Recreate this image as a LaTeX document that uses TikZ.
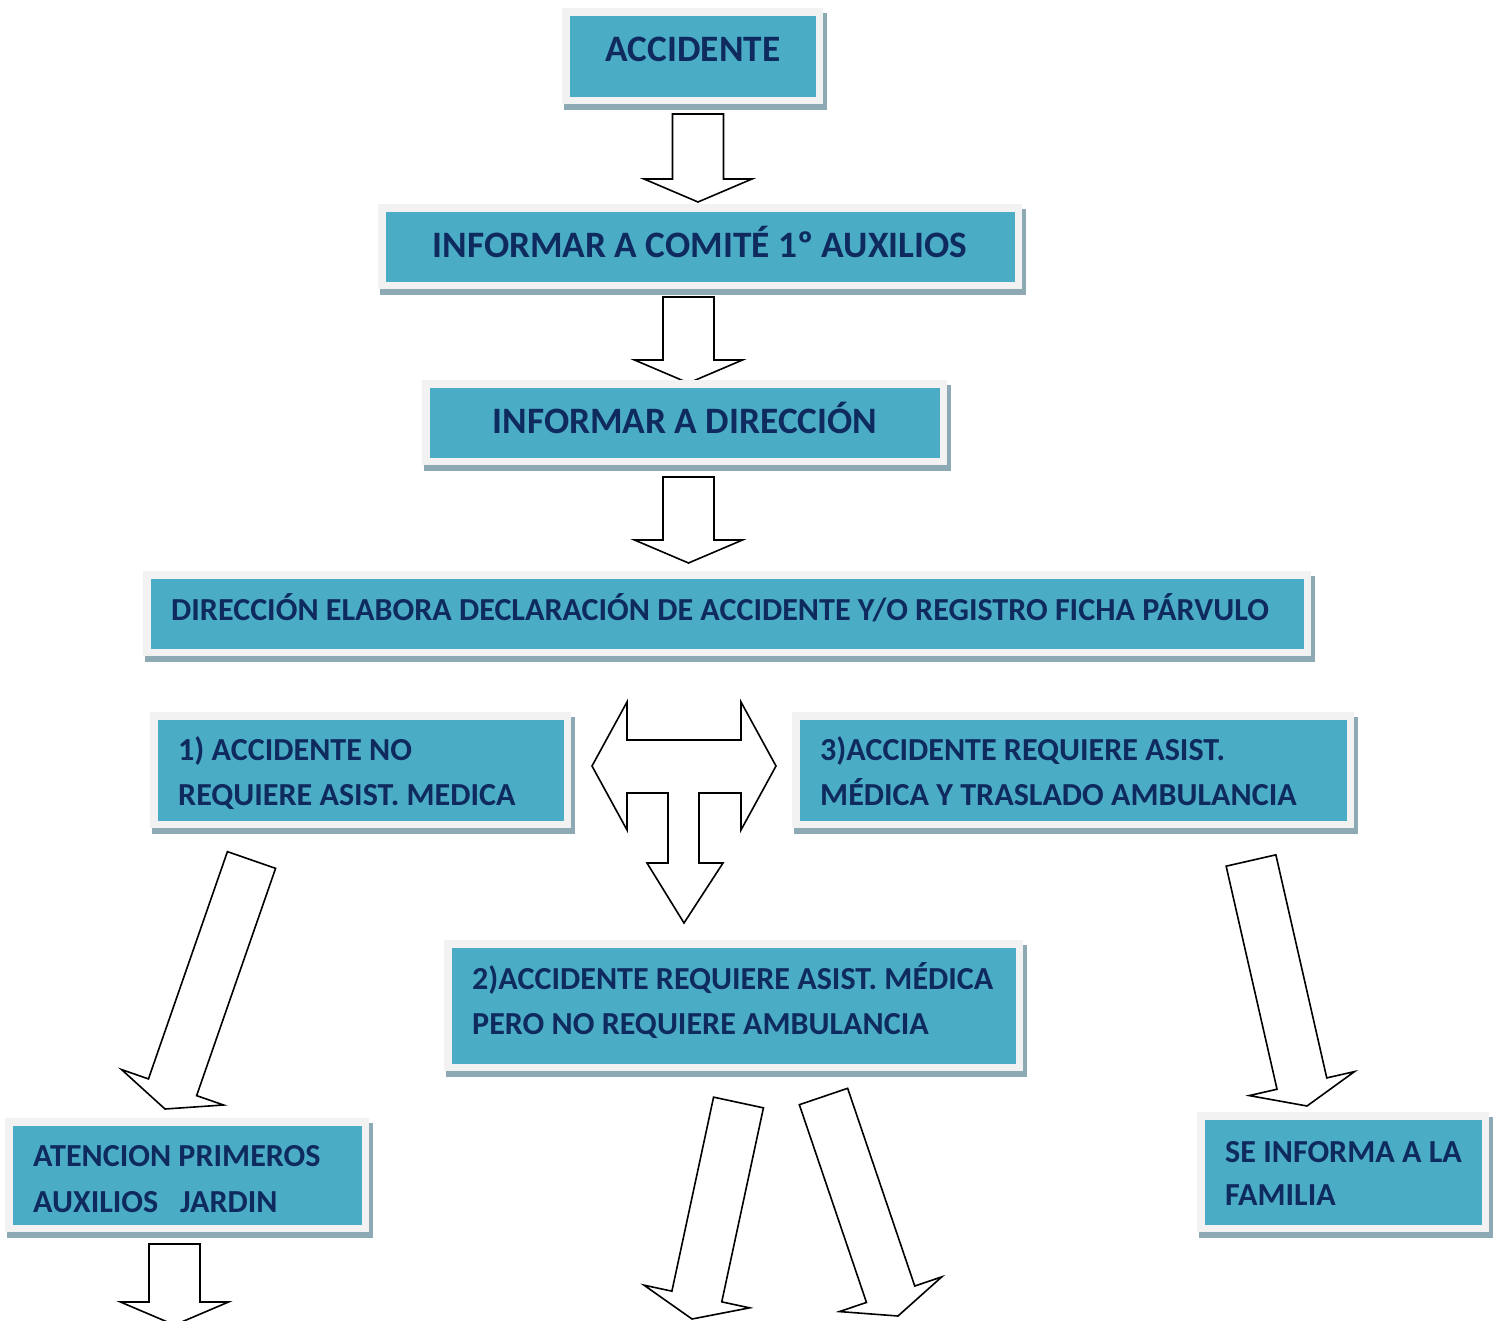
\documentclass[tikz,border=0pt]{standalone}
\usepackage{fontspec}
\setmainfont{Carlito}
\usetikzlibrary{calc,fit}
\definecolor{boxblue}{HTML}{4BACC6}
\definecolor{framegray}{HTML}{F2F2F2}
\definecolor{shadowc}{HTML}{8DA9B3}
\definecolor{navy}{HTML}{0F2A5E}
\tikzset{
  bluebox/.style={fill=boxblue, inner sep=0pt, outer sep=0pt},
  blockarr/.style={draw=black, fill=white, line width=1.6pt, line join=miter},
  bigtxt/.style={font=\fontsize{37.3}{44}\selectfont\bfseries, text=navy, inner sep=0pt, anchor=base},
  smalltxt/.style={font=\fontsize{32.1}{38}\selectfont\bfseries, text=navy, inner sep=0pt, anchor=base west},
}
\newcommand\flowbox[5]{%
  \fill[shadowc] ([shift={(-6,-3)}]#2,#3) rectangle ([shift={(11,13)}]#4,#5);
  \fill[framegray] ([shift={(-8,-8)}]#2,#3) rectangle ([shift={(7,7)}]#4,#5);
  \node[bluebox, fit={(#2,#3) (#4,#5)}] (#1) {};
}
\newcommand\blockarrow[2]{%
  \coordinate (hb) at ($(#2)!23pt!(#1)$);
  \draw[blockarr] ($(#1)!25.5pt!90:(#2)$) -- ($(hb)!25.5pt!90:(#2)$) -- ($(hb)!54pt!90:(#2)$)
    -- (#2) -- ($(hb)!54pt!-90:(#2)$) -- ($(hb)!25.5pt!-90:(#2)$) -- ($(#1)!25.5pt!-90:(#2)$) -- cycle;
}
\begin{document}
\begin{tikzpicture}[x=1pt,y=-1pt]
\useasboundingbox (0,0) rectangle (1497,1321);
% arrow end points
\coordinate (a1s) at (698,114);    \coordinate (a1e) at (698,202);
\coordinate (a2s) at (688.5,297);  \coordinate (a2e) at (688.5,383);
\coordinate (a3s) at (688.5,477);  \coordinate (a3e) at (688.5,563);
\coordinate (a4s) at (251.5,860);  \coordinate (a4e) at (165,1109);
\coordinate (a5s) at (1251,860.5); \coordinate (a5e) at (1307,1106);
\coordinate (a6s) at (738.5,1102.5); \coordinate (a6e) at (692,1319);
\coordinate (a7s) at (823.5,1096.5); \coordinate (a7e) at (898,1316);
\coordinate (a8s) at (174.5,1244); \coordinate (a8e) at (174.5,1325);
\blockarrow{a1s}{a1e}
\blockarrow{a2s}{a2e}
\blockarrow{a3s}{a3e}
\blockarrow{a4s}{a4e}
\blockarrow{a5s}{a5e}
\blockarrow{a6s}{a6e}
\blockarrow{a7s}{a7e}
\blockarrow{a8s}{a8e}
% T-shaped three-way arrow
\draw[blockarr] (592,766) -- (627,702) -- (627,740) -- (741,740) -- (741,702) -- (776,766)
  -- (741,830) -- (741,793) -- (699,793) -- (699,863) -- (723,863) -- (684,923)
  -- (647,863) -- (668,863) -- (668,793) -- (627,793) -- (627,830) -- cycle;
% boxes
\flowbox{acc}{570}{16}{816}{97}
\flowbox{comite}{386}{212}{1015}{282}
\flowbox{dir}{430}{388}{940}{458}
\flowbox{decl}{151}{579}{1304}{649}
\flowbox{bone}{158}{720}{564}{821}
\flowbox{bthree}{800}{720}{1347}{821}
\flowbox{btwo}{452}{948}{1016}{1064}
\flowbox{batt}{13}{1126}{362}{1225}
\flowbox{bfam}{1205}{1120}{1482}{1225}
% texts
\node[bigtxt] (tacc) at (693,62) {ACCIDENTE};
\node[bigtxt] (tcom) at (700,258) {INFORMAR A COMITÉ 1º AUXILIOS};
\node[bigtxt] (tdir) at (685,434) {INFORMAR A DIRECCIÓN};
\node[smalltxt] (tdecl) at (171,620) {DIRECCIÓN ELABORA DECLARACIÓN DE ACCIDENTE Y/O REGISTRO FICHA PÁRVULO};
\node[smalltxt] (tone1) at (178,760) {1) ACCIDENTE NO};
\node[smalltxt] (tone2) at (178,805) {REQUIERE ASIST. MEDICA};
\node[smalltxt] (tthree1) at (820,760) {3)ACCIDENTE REQUIERE ASIST.};
\node[smalltxt] (tthree2) at (820,805) {MÉDICA Y TRASLADO AMBULANCIA};
\node[smalltxt] (ttwo1) at (472,989) {2)ACCIDENTE REQUIERE ASIST. MÉDICA};
\node[smalltxt] (ttwo2) at (472,1034) {PERO NO REQUIERE AMBULANCIA};
\node[smalltxt] (tatt1) at (33,1166) {ATENCION PRIMEROS};
\node[smalltxt] (tatt2) at (33,1212) {AUXILIOS~~~JARDIN};
\node[smalltxt] (tfam1) at (1225,1162) {SE INFORMA A LA};
\node[smalltxt] (tfam2) at (1225,1205) {FAMILIA};
\end{tikzpicture}
\end{document}
